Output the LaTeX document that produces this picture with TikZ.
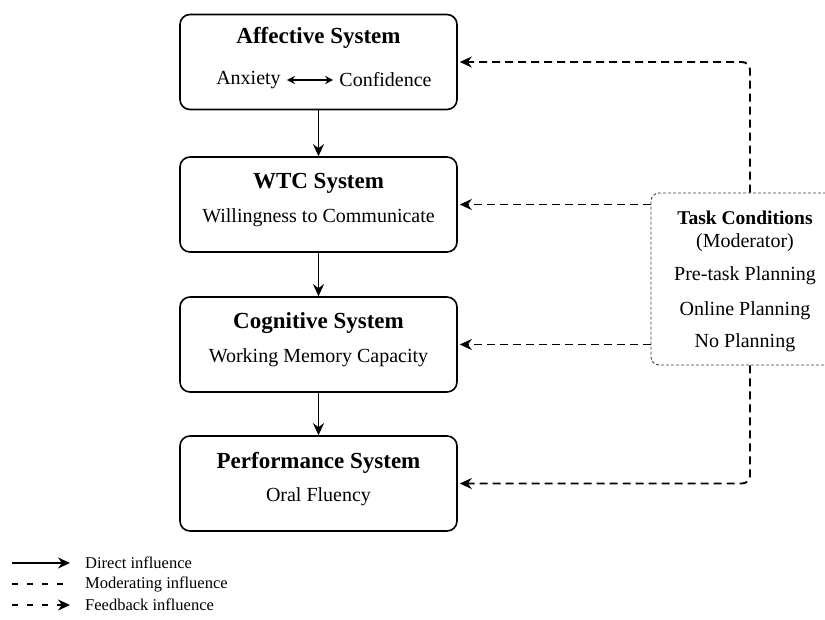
\documentclass[tikz,border=0pt]{standalone}
\usepackage{fontspec}
\setmainfont{Liberation Serif}
\usetikzlibrary{positioning,arrows.meta}

\tikzset{
	sysbox/.style={draw, rounded corners=10pt, line width=1.6pt, minimum width=277pt, minimum height=95pt},
	systitle/.style={font=\fontsize{23}{27}\selectfont\bfseries, inner sep=1pt},
	systext/.style={font=\fontsize{20}{24}\selectfont, inner sep=1pt},
	modbox/.style={draw=black!75, densely dashed, line width=0.9pt, rounded corners=8pt, minimum width=188pt, minimum height=172pt},
	modtitle/.style={font=\fontsize{19.5}{23}\selectfont\bfseries, inner sep=1pt},
	legtext/.style={font=\fontsize{16.5}{19}\selectfont, inner sep=1pt, anchor=west},
	direct/.style={-{Stealth[length=12pt,width=11pt]}, line width=1.9pt},
	moder/.style={dash pattern=on 8pt off 5pt, line width=1.9pt},
	feedback/.style={moder, -{Stealth[length=12pt,width=11pt]}}
}

\begin{document}
\begin{tikzpicture}[x=1pt,y=-1pt]
	\useasboundingbox (0,0) rectangle (825,619);
	\clip (0,0) rectangle (825,619);
	
	% 情感系统
	\node[sysbox] (aff) at (318.5,62) {};
	\node[systitle] (aff-t) at (318.5,38) {Affective System};
	\node[systext] (anx) at (248.5,80) {Anxiety};
	\node[systext] (conf) at (385.5,80) {Confidence};
	\draw[{Stealth[length=8pt,width=8pt]}-{Stealth[length=8pt,width=8pt]}, line width=1.5pt, shorten <=5pt, shorten >=5pt] (anx) -- (conf);
	
	% 其余三个系统框
	\foreach \n/\y/\t/\s in {wtc/204.5/WTC System/Willingness to Communicate,
		cog/344.5/Cognitive System/Working Memory Capacity,
		perf/483.5/Performance System/Oral Fluency} {
		\node[sysbox] (\n) at (318.5,\y) {};
		\node[systitle] (\n-t) at ([yshift=21pt]\n.center) {\t};
		\node[systext] (\n-s) at ([yshift=-13pt]\n.center) {\s};
	}
	
	% 直接影响
	\draw[direct] (aff) -- (wtc);
	\draw[direct] (wtc) -- (cog);
	\draw[direct] (cog) -- (perf);
	
	% 任务条件（调节变量）
	\node[modbox] (mod) at (745,279) {};
	\node[modtitle] (mod-t) at (745,218) {Task Conditions};
	\node[systext] (mod-m) at (745,243) {(Moderator)};
	\node[systext] (pre) at (745,276) {Pre-task Planning};
	\node[systext] (onl) at (745,311) {Online Planning};
	\node[systext] (nop) at (745,343) {No Planning};
	
	% 调节与反馈
	\draw[feedback, shorten >=2pt] (mod.west |- wtc) -- (wtc);
	\draw[feedback, shorten >=2pt] (mod.west |- cog) -- (cog);
	\draw[feedback, rounded corners=8pt, shorten >=2pt] ([xshift=5pt]mod.north) |- (aff);
	\draw[feedback, rounded corners=8pt, shorten >=2pt] ([xshift=5pt]mod.south) |- (perf);
	
	% 图例
	\coordinate (l1a) at (12,563); \coordinate (l1b) at (70,563);
	\coordinate (l2a) at (12,584); \coordinate (l2b) at (63,584);
	\coordinate (l3a) at (12,605); \coordinate (l3b) at (70,605);
	\draw[direct] (l1a) -- (l1b);
	\draw[moder, dash pattern=on 6pt off 9pt] (l2a) -- (l2b);
	\draw[feedback, dash pattern=on 6pt off 9pt] (l3a) -- (l3b);
	\node[legtext] (leg1) at (84,563) {Direct influence};
	\node[legtext] (leg2) at (84,584) {Moderating influence};
	\node[legtext] (leg3) at (84,605) {Feedback influence};
\end{tikzpicture}
\end{document}
